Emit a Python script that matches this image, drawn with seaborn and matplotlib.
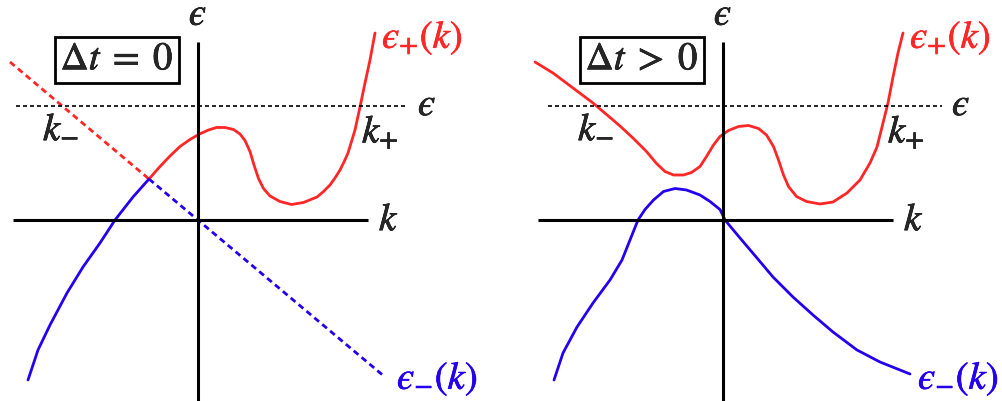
import numpy as np
import pandas as pd
import matplotlib
matplotlib.use("Agg")
import matplotlib.pyplot as plt
import matplotlib.patheffects as pe
import seaborn as sns

# 风格设置
sns.set_style("white")
plt.rcParams['mathtext.fontset'] = 'stix'
plt.rcParams['font.family'] = ['STIXGeneral', 'DejaVu Sans']

RED = '#ff2626'
BLUE = '#2400f0'
FS = 28
EPS = '\u03f5'  # 月牙形 epsilon

# ---- 左图: Δt = 0 ----
left_red_k = [-0.98, -0.76, -0.56, -0.36, -0.16, 0.03, 0.21, 0.37, 0.54, 0.71, 0.84, 0.94, 1.04,
              1.12, 1.21, 1.31, 1.44, 1.64, 1.87, 2.11, 2.38, 2.50, 2.64, 2.74, 2.84, 2.92,
              3.00, 3.14, 3.24, 3.34, 3.44, 3.54]
left_red_e = [0.82, 1.07, 1.28, 1.47, 1.61, 1.72, 1.80, 1.85, 1.85, 1.81, 1.72, 1.59, 1.37,
              1.10, 0.83, 0.63, 0.48, 0.37, 0.31, 0.35, 0.46, 0.56, 0.70, 0.84, 1.00, 1.16,
              1.34, 1.80, 2.26, 2.74, 3.20, 3.74]
left_blue_k = [-3.40, -3.20, -2.96, -2.62, -2.30, -1.96, -1.66, -1.30, -0.98]
left_blue_e = [-3.20, -2.60, -2.10, -1.46, -0.94, -0.46, 0.00, 0.46, 0.82]
# 虚线部分 (未耦合的支)
left_red_dash_k = [-3.76, -0.98]
left_red_dash_e = [3.16, 0.82]
left_blue_dash_k = [-0.98, 3.74]
left_blue_dash_e = [0.82, -3.14]

# ---- 右图: Δt > 0 ----
right_red_k = [-3.76, -3.40, -3.00, -2.60, -2.20, -2.06, -1.79, -1.53, -1.33, -1.16, -0.99, -0.79,
               -0.63, -0.46, -0.33, -0.19, -0.06, 0.11, 0.31, 0.51, 0.71, 0.87, 1.01, 1.11,
               1.21, 1.31, 1.47, 1.67, 1.94, 2.20, 2.48, 2.74, 2.94, 3.08, 3.20, 3.30, 3.40,
               3.50, 3.60]
right_red_e = [3.16, 2.94, 2.64, 2.34, 2.00, 1.88, 1.63, 1.37, 1.13, 0.97, 0.90, 0.90,
               0.95, 1.07, 1.27, 1.50, 1.67, 1.79, 1.87, 1.89, 1.83, 1.70, 1.47, 1.20,
               0.90, 0.67, 0.47, 0.37, 0.32, 0.36, 0.54, 0.80, 1.14, 1.46, 1.94, 2.34, 2.86,
               3.34, 3.74]
right_blue_k = [-3.38, -3.20, -2.92, -2.60, -2.26, -2.02, -1.86, -1.70, -1.56, -1.39, -1.19, -0.96,
                -0.73, -0.46, -0.26, -0.06, 0.04, 0.34, 0.68, 1.00, 1.40, 1.80, 2.20, 2.68,
                3.14, 3.74]
right_blue_e = [-3.20, -2.66, -2.14, -1.66, -1.20, -0.80, -0.40, 0.00, 0.21, 0.40, 0.57, 0.63,
                0.60, 0.50, 0.37, 0.21, 0.00, -0.36, -0.76, -1.14, -1.54, -1.90, -2.24, -2.60,
                -2.84, -3.08]

# 坐标轴范围与能量线
k_axis = [-3.70, 3.40]
e_axis = [-3.70, 3.56]
eps_level = 2.28
left_eps_line = [-3.64, 4.20]
right_eps_line = [-3.50, 4.38]

fig = plt.figure(figsize=(10.03, 4.01), dpi=100)
ax1 = fig.add_axes([0, 0, 500 / 1003, 1])
ax2 = fig.add_axes([500 / 1003, 0, 503 / 1003, 1])
ax1.set_xlim(-3.96, 6.04)
ax2.set_xlim(-4.46, 5.60)
for ax in (ax1, ax2):
    ax.set_ylim(-3.62, 4.40)
    ax.axis('off')


def bold(c):
    return [pe.withStroke(linewidth=0.5, foreground=c)]


def draw_frame(ax, eps_line, title, km_x, kp_x, kp_lab_x, km_lab_x):
    ax.hlines(0, k_axis[0], k_axis[1], color='black', lw=2.2)
    ax.vlines(0, e_axis[0], e_axis[1], color='black', lw=2.2)
    ax.hlines(eps_level, eps_line[0], eps_line[1], color='black', lw=1.2,
              linestyles=(0, (2.4, 1.8)))
    kw = dict(fontsize=FS, path_effects=bold('black'))
    ax.text(0, 3.90, f'${EPS}$', ha='center', va='baseline', **kw)
    ax.text(eps_line[1] + 0.2, eps_level, f'${EPS}$', ha='left', va='center', **kw)
    ax.text(3.62, -0.02, r'$k$', ha='left', va='center', **kw)
    ax.text(km_x, 1.78, r'$k_{-}$', ha='left', va='center', **kw)
    ax.text(kp_x, 1.76, r'$k_{+}$', ha='left', va='center', **kw)
    ax.text(kp_lab_x, 3.64, f'${EPS}_{{+}}(k)$', ha='left', va='center', fontsize=FS,
            color=RED, path_effects=bold(RED))
    ax.text(km_lab_x, -3.18, f'${EPS}_{{-}}(k)$', ha='left', va='center', fontsize=FS,
            color=BLUE, path_effects=bold(BLUE))
    ax.text(-1.62, 3.20, title, ha='center', va='center',
            bbox=dict(boxstyle='square,pad=0.15', fc='white', ec='black', lw=2.0), **kw)


# 左图曲线
sns.lineplot(x=left_red_dash_k, y=left_red_dash_e, ax=ax1, color=RED, lw=2.0,
             linestyle=(0, (2.2, 1.5)), sort=False)
sns.lineplot(x=left_blue_dash_k, y=left_blue_dash_e, ax=ax1, color=BLUE, lw=2.0,
             linestyle=(0, (2.2, 1.5)), sort=False)
sns.lineplot(x=left_red_k, y=left_red_e, ax=ax1, color=RED, lw=2.0, sort=False)
sns.lineplot(x=left_blue_k, y=left_blue_e, ax=ax1, color=BLUE, lw=2.0, sort=False)
draw_frame(ax1, left_eps_line, r'$\Delta t\;=\;0$', -3.10, 3.28, 3.68, 3.98)

# 右图曲线
sns.lineplot(x=right_red_k, y=right_red_e, ax=ax2, color=RED, lw=2.0, sort=False)
sns.lineplot(x=right_blue_k, y=right_blue_e, ax=ax2, color=BLUE, lw=2.0, sort=False)
draw_frame(ax2, right_eps_line, r'$\Delta t\;>\;0$', -2.90, 3.30, 3.74, 3.90)

fig.savefig('out.png', dpi=100)
